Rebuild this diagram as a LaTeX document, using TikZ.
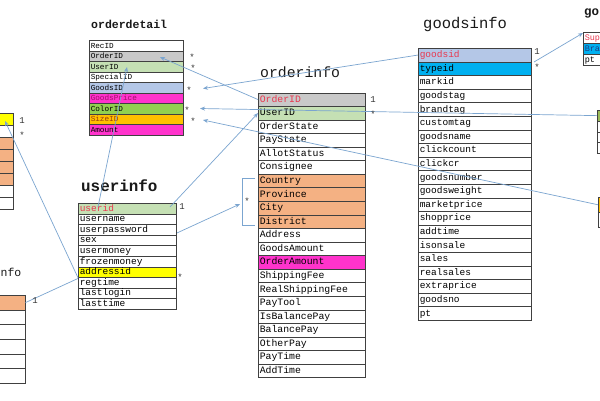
\documentclass[tikz,border=0pt]{standalone}
\usepackage{fontspec}
\setmonofont{Liberation Mono}
\usetikzlibrary{arrows.meta,calc}
\definecolor{lnk}{HTML}{7BA5D0}
\definecolor{cGray}{HTML}{C9C9C9}
\definecolor{cGreen}{HTML}{C5E0B4}
\definecolor{cBlue}{HTML}{B4C7E7}
\definecolor{cMag}{HTML}{FF33CC}
\definecolor{cMagTxt}{HTML}{A0106A}
\definecolor{cLime}{HTML}{92D050}
\definecolor{cOrg}{HTML}{FFC000}
\definecolor{cSizeTxt}{HTML}{9A3A10}
\definecolor{cPeach}{HTML}{F4B183}
\definecolor{cYel}{HTML}{FFFF00}
\definecolor{cCyan}{HTML}{00B0F0}
\definecolor{cOlive}{HTML}{9BBB59}
\definecolor{cRed}{HTML}{E8384F}
\definecolor{cBraTxt}{HTML}{1F3A80}
\newcommand{\mktable}[7]{%
  \foreach [count=\i] \t/\f/\c in {#7}{%
    \node[rowbox, fill=\f, text=\c, minimum height=#5pt, text width=#4pt,
          font=\ttfamily\fontsize{#6}{#6}\selectfont] (#1-\i) at (#2, {#3+(\i-1)*#5}) {\t};
  }}
\begin{document}
\begin{tikzpicture}[x=1pt,y=-1pt,
  rowbox/.style={draw=black!75, line width=0.5pt, inner xsep=1.5pt, inner ysep=0pt,
    anchor=north west, align=left, text height=0.72em, text depth=0.2em},
  link/.style={draw=lnk, line width=0.7pt},
  arr/.style={link, -{Stealth[length=5pt,width=4pt]}},
  ttl/.style={anchor=west, inner sep=0pt, text=black!90},
  card/.style={font=\ttfamily\fontsize{9}{10}\selectfont, inner sep=0pt, text=black!80}]
\fill[white] (0,0) rectangle (600,400);
\useasboundingbox (0,0) rectangle (600,400);

% partial tables at the edges
\mktable{lt}{-30}{113}{40}{12}{9}{/cYel/black, /white/black, /cPeach/black, /cPeach/black, /cPeach/black, /cPeach/black, /white/black, /white/black}
\mktable{lb}{-30}{295}{52}{14.67}{9}{/cPeach/black, /white/black, /white/black, /white/black, /white/black, /white/black}
\mktable{gt}{583}{32}{40}{11}{8.5}{Sup/white/cRed, Bra/cCyan/cBraTxt, pt/white/black}
\mktable{rm}{597}{110}{30}{10.75}{9}{/cOlive/black, /white/black, /white/black, /white/black}
\mktable{rl}{598}{197}{30}{15}{9}{/cOrg/black, /white/black}

\node[ttl, font=\ttfamily\fontsize{11.5}{13}\selectfont] (lbT) at (0.5,272) {nfo};
\node[ttl, font=\ttfamily\bfseries\fontsize{12.5}{14}\selectfont] (gtT) at (584,13) {go};

% connector passing behind userinfo
\coordinate (tBr) at (240,204);
\draw[arr] (lb-1.east) -- (tBr);

% main tables
\node[ttl, font=\ttfamily\bfseries\fontsize{11.5}{13}\selectfont] (odT) at (91,24) {orderdetail};
\mktable{od}{89}{40}{91}{10.5}{7.7}{RecID/white/black, OrderID/cGray/black, UserID/cGreen/black, SpecialID/white/black, GoodsID/cBlue/black, GoodsPrice/cMag/cMagTxt, ColorID/cLime/black, SizeID/cOrg/cSizeTxt, Amount/cMag/black}

\node[ttl, font=\ttfamily\bfseries\fontsize{15.9}{17}\selectfont] (uiT) at (81,186) {userinfo};
\mktable{ui}{78}{203}{95}{10.6}{9.5}{userid/cGreen/cRed, username/white/black, userpassword/white/black, sex/white/black, usermoney/white/black, frozenmoney/white/black, addressid/cYel/black, regtime/white/black, lastlogin/white/black, lasttime/white/black}

\node[ttl, font=\ttfamily\fontsize{14.8}{16}\selectfont] (oiT) at (260,72) {orderinfo};
\mktable{oi}{258}{92.5}{104}{13.57}{9.8}{OrderID/cGray/cRed, UserID/cGreen/black, OrderState/white/black, PayState/white/black, AllotStatus/white/black, Consignee/white/black, Country/cPeach/black, Province/cPeach/black, City/cPeach/black, District/cPeach/black, Address/white/black, GoodsAmount/white/black, OrderAmount/cMag/black, ShippingFee/white/black, RealShippingFee/white/black, PayTool/white/black, IsBalancePay/white/black, BalancePay/white/black, OtherPay/white/black, PayTime/white/black, AddTime/white/black}

\node[ttl, font=\ttfamily\fontsize{15.5}{17}\selectfont] (giT) at (423,24) {goodsinfo};
\mktable{gi}{418}{48}{110}{13.6}{9.5}{goodsid/cBlue/cRed, typeid/cCyan/black, markid/white/black, goodstag/white/black, brandtag/white/black, customtag/white/black, goodsname/white/black, clickcount/white/black, clickcr/white/black, goodsnumber/white/black, goodsweight/white/black, marketprice/white/black, shopprice/white/black, addtime/white/black, isonsale/white/black, sales/white/black, realsales/white/black, extraprice/white/black, goodsno/white/black, pt/white/black}

% bracket around the address fields
\coordinate (bA) at (255,178);
\coordinate (bB) at (242,178);
\coordinate (bC) at (242,225);
\coordinate (bD) at (255,225);
\draw[link] (bA) -- (bB) -- (bC) -- (bD);

% connectors
\coordinate (tGoods) at (203,88.5);
\coordinate (tOrder) at (160,57);
\coordinate (tColor) at (200,108.5);
\coordinate (tSize) at (203,120);
\coordinate (tUser) at (127,67);
\coordinate (sUser) at (98,207);
\coordinate (sUid) at (170,207);
\coordinate (sType) at (534,62);
\coordinate (tGo) at (583,33);
\coordinate (tLt) at (5,121);
\draw[arr] (gi-1.west) -- (tGoods);
\draw[arr] (oi-1.west) -- (tOrder);
\draw[arr] (rm-1.west) -- (tColor);
\draw[arr] (rl-1.west) -- (tSize);
\draw[arr] (sUser) -- (tUser);
\draw[arr] (sUid) -- (oi-2.west);
\draw[arr] (sType) -- (tGo);
\draw[arr] (ui-7.south west) -- (tLt);

% cardinalities
\node[card] (k1) at (192,57) {*};
\node[card] (k2) at (193,68) {*};
\node[card] (k3) at (189,90) {*};
\node[card] (k4) at (187,110) {*};
\node[card] (k5) at (193,121) {*};
\node[card] (k6) at (182,207) {1};
\node[card] (k7) at (180,277) {*};
\node[card] (k8) at (373,100) {1};
\node[card] (k9) at (373,114) {*};
\node[card] (k10) at (247,201) {*};
\node[card] (k11) at (537,52) {1};
\node[card] (k12) at (537,67) {*};
\node[card] (k13) at (22,121) {1};
\node[card] (k14) at (22,135) {*};
\node[card] (k15) at (35,301) {1};
\end{tikzpicture}
\end{document}
